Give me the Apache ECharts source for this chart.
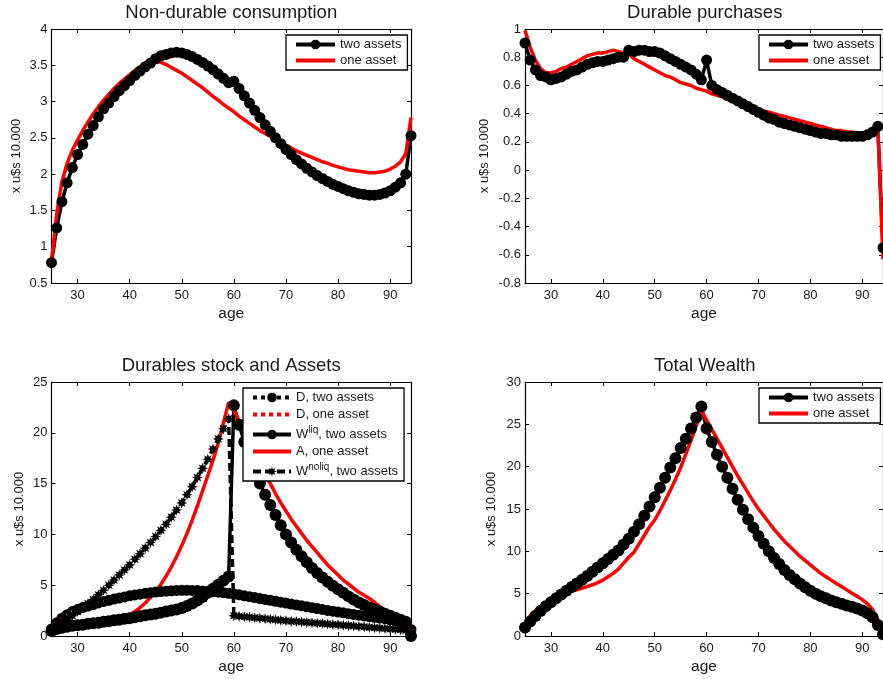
<!DOCTYPE html>
<html>
<head>
<meta charset="utf-8">
<script src="https://cdn.jsdelivr.net/npm/echarts@6/dist/echarts.min.js"></script>
<style>html,body{margin:0;padding:0;background:#fff;}#c{width:883px;height:679px;}</style>
</head>
<body>
<div id="c"></div>
<script>
const ages = [25,26,27,28,29,30,31,32,33,34,35,36,37,38,39,40,41,42,43,44,45,46,47,48,49,50,51,52,53,54,55,56,57,58,59,60,61,62,63,64,65,66,67,68,69,70,71,72,73,74,75,76,77,78,79,80,81,82,83,84,85,86,87,88,89,90,91,92,93,94];
const xTicks = [30,40,50,60,70,80,90];

// Non-durable consumption
const ndTwo = [0.78,1.26,1.62,1.88,2.09,2.27,2.41,2.55,2.67,2.79, 2.90,2.98,3.07,3.15,3.22,3.29,3.36,3.42,3.48,3.53, 3.59,3.63,3.65,3.67,3.68,3.67,3.65,3.62,3.58,3.54, 3.49,3.44,3.38,3.32,3.26,3.28,3.18,3.08,2.98,2.88, 2.78,2.68,2.59,2.50,2.42,2.34,2.27,2.20,2.14,2.08, 2.03,1.98,1.94,1.90,1.86,1.83,1.80,1.77,1.75,1.73, 1.72,1.71,1.71,1.72,1.74,1.77,1.82,1.88,2.00,2.53];
const ndOne = [0.80,1.45,1.90,2.15,2.33,2.47,2.60,2.72,2.83,2.93, 3.02,3.10,3.18,3.25,3.31,3.37,3.43,3.48,3.53,3.56, 3.56,3.54,3.51,3.47,3.43,3.39,3.34,3.29,3.24,3.19, 3.13,3.07,3.02,2.96,2.91,2.86,2.80,2.75,2.70,2.65, 2.60,2.56,2.52,2.48,2.44,2.40,2.36,2.32,2.29,2.26, 2.23,2.20,2.17,2.15,2.12,2.10,2.08,2.06,2.05,2.04, 2.03,2.02,2.02,2.03,2.04,2.07,2.11,2.17,2.28,2.78];

// Durable purchases
const dpTwo = [0.90,0.78,0.71,0.67,0.66,0.64,0.65,0.66,0.68,0.70, 0.71,0.73,0.75,0.76,0.77,0.77,0.78,0.79,0.80,0.80, 0.85,0.84,0.85,0.85,0.84,0.84,0.83,0.81,0.79,0.77, 0.75,0.73,0.71,0.68,0.64,0.78,0.60,0.57,0.55,0.53, 0.51,0.49,0.47,0.45,0.43,0.41,0.39,0.37,0.36,0.34, 0.33,0.32,0.31,0.30,0.29,0.28,0.27,0.26,0.26,0.25, 0.25,0.24,0.24,0.24,0.24,0.24,0.25,0.27,0.31,-0.55];
const dpOne = [0.99,0.87,0.78,0.72,0.69,0.69,0.70,0.72,0.73,0.75, 0.77,0.79,0.81,0.82,0.83,0.83,0.84,0.85,0.84,0.83, 0.82,0.79,0.77,0.75,0.73,0.71,0.69,0.67,0.66,0.64, 0.62,0.61,0.60,0.58,0.57,0.56,0.54,0.53,0.52,0.50, 0.49,0.48,0.47,0.46,0.45,0.43,0.42,0.41,0.40,0.39, 0.38,0.37,0.36,0.35,0.34,0.33,0.32,0.31,0.30,0.29, 0.28,0.28,0.27,0.27,0.26,0.26,0.26,0.27,0.30,-0.63];

// Durables stock and assets
const dTwo = [0.70,1.30,1.75,2.10,2.40,2.60,2.80,2.95,3.10,3.25, 3.40,3.52,3.63,3.74,3.85,3.95,4.04,4.12,4.20,4.26, 4.32,4.37,4.41,4.45,4.48,4.50,4.50,4.49,4.47,4.44, 4.40,4.36,4.31,4.26,4.20,4.14,4.05,3.96,3.87,3.78, 3.69,3.60,3.51,3.42,3.33,3.24,3.15,3.06,2.97,2.88, 2.79,2.70,2.61,2.52,2.44,2.36,2.28,2.20,2.12,2.05, 1.98,1.91,1.84,1.77,1.70,1.60,1.50,1.40,1.30,0.65];
const dOne = [0.80,1.60,2.10,2.45,2.72,2.92,3.10,3.25,3.38,3.50, 3.60,3.70,3.80,3.88,3.96,4.04,4.11,4.17,4.23,4.28, 4.32,4.35,4.37,4.38,4.38,4.37,4.35,4.32,4.28,4.24, 4.19,4.13,4.07,4.00,3.93,3.85,3.75,3.66,3.57,3.48, 3.39,3.30,3.21,3.12,3.03,2.95,2.87,2.79,2.71,2.63, 2.55,2.47,2.39,2.31,2.24,2.17,2.10,2.03,1.97,1.91, 1.85,1.79,1.73,1.67,1.61,1.54,1.46,1.36,1.10,0.50];
const wLiq = [0.50,0.70,0.80,0.90,1.00,1.05,1.10,1.20,1.25,1.30, 1.40,1.45,1.55,1.60,1.70,1.75,1.85,1.95,2.05,2.12, 2.20,2.30,2.40,2.50,2.60,2.75,2.95,3.20,3.50,3.85, 4.25,4.65,5.05,5.45,5.85,22.70,20.80,19.10,17.60,16.20, 15.00,13.90,12.90,11.90,10.90,10.00,9.20,8.50,7.85,7.25, 6.70,6.20,5.75,5.35,4.95,4.60,4.25,3.90,3.60,3.30, 3.05,2.80,2.60,2.40,2.20,2.00,1.80,1.60,1.40,0.00];
const aOne = [0.20,0.40,0.55,0.70,0.80,0.90,1.00,1.10,1.20,1.30, 1.40,1.50,1.63,1.77,1.92,2.10,2.40,2.80,3.25,3.80, 4.40,5.10,5.90,6.80,7.80,8.90,10.10,11.40,12.80,14.30, 15.80,17.30,19.00,21.00,23.00,22.20,21.20,20.10,19.00,17.90, 16.90,15.90,15.00,14.00,13.10,12.30,11.50,10.80,10.10,9.40, 8.80,8.20,7.60,7.00,6.50,6.00,5.50,5.10,4.70,4.30, 4.00,3.70,3.30,2.90,2.50,2.10,1.70,1.20,0.70,0.20];
const wNoliq = [0.60,0.95,1.30,1.65,2.00,2.40,2.80,3.20,3.60,4.05, 4.50,5.00,5.50,6.00,6.50,7.00,7.55,8.10,8.65,9.20, 9.80,10.40,11.00,11.70,12.40,13.10,13.90,14.70,15.60,16.50, 17.40,18.40,19.40,20.40,21.40,2.00,1.95,1.90,1.85,1.80, 1.75,1.70,1.65,1.60,1.55,1.50,1.46,1.42,1.38,1.34, 1.30,1.26,1.22,1.18,1.14,1.10,1.06,1.02,0.98,0.94, 0.90,0.86,0.82,0.78,0.74,0.70,0.66,0.62,0.55,0.30];

// Total wealth
const twTwo = [1.00,1.70,2.35,2.95,3.50,4.00,4.45,4.90,5.35,5.80, 6.20,6.65,7.10,7.60,8.10,8.60,9.10,9.60,10.10,10.80, 11.50,12.30,13.20,14.20,15.30,16.40,17.50,18.70,19.90,21.00, 22.20,23.30,24.50,25.80,27.10,24.50,22.90,21.40,20.00,18.70, 17.40,16.10,14.90,13.80,12.80,11.80,10.90,10.00,9.20,8.50, 7.80,7.20,6.70,6.20,5.75,5.35,5.00,4.70,4.45,4.20, 4.00,3.80,3.60,3.45,3.25,3.00,2.70,2.20,1.30,0.20];
const twOne = [1.50,2.40,3.00,3.50,3.95,4.30,4.60,4.90,5.10,5.30, 5.45,5.65,5.85,6.05,6.30,6.60,7.00,7.40,7.90,8.60, 9.30,9.90,10.90,11.90,12.90,13.70,14.80,16.00,17.20,18.50, 19.90,21.50,23.10,24.80,26.60,25.50,24.40,23.30,22.20,21.10, 20.00,18.90,17.90,16.90,15.90,15.00,14.20,13.40,12.60,11.90, 11.20,10.60,10.00,9.40,8.90,8.40,7.90,7.40,7.00,6.60, 6.20,5.85,5.45,5.05,4.70,4.30,3.80,3.10,1.90,0.50];

const titles = ['Non-durable consumption','Durable purchases','Durables stock and Assets','Total Wealth'];
const yRanges = [[0.5,4,0.5],[-0.8,1,0.2],[0,25,5],[0,30,5]];

const FONT = "'Liberation Sans', Arial, sans-serif";
const TXT = '#1a1a1a';
const panels = [
  {left:51.5, top:29}, {left:525, top:29},
  {left:51.5, top:382}, {left:525, top:382}
];
const PW = 359.5, PH = 254;
const yNameGap = [29, 34, 26, 27];
const star = 'path://M20,10L14.62,11.91L17.07,17.07L11.91,14.62L10,20L8.09,14.62L2.93,17.07L5.38,11.91L0,10L5.38,8.09L2.93,2.93L8.09,5.38L10,0L11.91,5.38L17.07,2.93L14.62,8.09Z';
const ring = 'path://M0,10A10,10 0 1,1 20,10A10,10 0 1,1 0,10ZM7.5,10A2.5,2.5 0 1,0 12.5,10A2.5,2.5 0 1,0 7.5,10Z';
const LW = 3.5;

function pairs(v){ return ages.map((a,i)=>[a,v[i]]); }

const grid=[], xAxis=[], yAxis=[], title=[];
panels.forEach((p,g)=>{
  grid.push({left:p.left, top:p.top, width:PW, height:PH, containLabel:false});
  const tickStyle = {show:true, inside:true, length:4, lineStyle:{color:'#000', width:1}};
  xAxis.push({type:'value', gridIndex:g, min:25, max:94, position:'bottom',
    name:'age', nameLocation:'middle', nameGap:23,
    nameTextStyle:{fontFamily:FONT, fontSize:15.5, color:TXT},
    axisLine:{show:true, onZero:false, lineStyle:{color:'#000', width:1.2}},
    axisTick:Object.assign({customValues:xTicks}, tickStyle),
    axisLabel:{customValues:xTicks, margin:6, fontFamily:FONT, fontSize:13, color:TXT},
    splitLine:{show:false}});
  xAxis.push({type:'value', gridIndex:g, min:25, max:94, position:'top',
    axisLine:{show:true, onZero:false, lineStyle:{color:'#000', width:1.2}},
    axisTick:Object.assign({customValues:xTicks}, tickStyle),
    axisLabel:{show:false}, splitLine:{show:false}});
  const r = yRanges[g];
  yAxis.push({type:'value', gridIndex:g, min:r[0], max:r[1], interval:r[2], position:'left',
    name:'x u$s 10.000', nameLocation:'middle', nameGap:yNameGap[g], nameRotate:90,
    nameTextStyle:{fontFamily:FONT, fontSize:13, color:TXT},
    axisLine:{show:true, onZero:false, lineStyle:{color:'#000', width:1.2}},
    axisTick:tickStyle,
    axisLabel:{margin:4, fontFamily:FONT, fontSize:13, color:TXT,
      formatter:v=>String(Math.round(v*10)/10)},
    splitLine:{show:false}});
  yAxis.push({type:'value', gridIndex:g, min:r[0], max:r[1], interval:r[2], position:'right',
    axisLine:{show:true, onZero:false, lineStyle:{color:'#000', width:1.2}},
    axisTick:tickStyle, axisLabel:{show:false}, splitLine:{show:false}});
  title.push({text:titles[g], left:p.left+PW/2, top:p.top - 26, textAlign:'center', padding:0,
    textStyle:{fontFamily:FONT, fontSize:18.5, fontWeight:'normal', color:TXT}});
});

function blackDots(name, vals, g, size){
  return {name, type:'line', xAxisIndex:2*g, yAxisIndex:2*g, data:pairs(vals), clip:false,
    symbol:'circle', symbolSize:size||11, showSymbol:true,
    lineStyle:{color:'#000', width:LW}, itemStyle:{color:'#000'}, emphasis:{disabled:true}};
}
function redLine(name, vals, g, type){
  return {name, type:'line', xAxisIndex:2*g, yAxisIndex:2*g, data:pairs(vals), clip:false,
    symbol:'none', lineStyle:{color:'#ff0000', width:LW, type:type||'solid'},
    itemStyle:{color:'#ff0000'}, emphasis:{disabled:true}};
}

const series = [
  blackDots('two assets', ndTwo, 0), redLine('one asset', ndOne, 0),
  blackDots('two assets', dpTwo, 1), redLine('one asset', dpOne, 1),
  {name:'D, two assets', type:'line', xAxisIndex:4, yAxisIndex:4, data:pairs(dTwo), clip:false,
    symbol:ring, symbolSize:11, lineStyle:{color:'#000', width:LW, type:'dotted'},
    itemStyle:{color:'#000'}, emphasis:{disabled:true}},
  redLine('D, one asset', dOne, 2, 'dotted'),
  blackDots('Wliq, two assets', wLiq, 2, 12),
  redLine('A, one asset', aOne, 2),
  {name:'Wnoliq, two assets', type:'line', xAxisIndex:4, yAxisIndex:4, data:pairs(wNoliq), clip:false,
    symbol:star, symbolSize:11, lineStyle:{color:'#000', width:LW, type:[8,4]},
    itemStyle:{color:'#000'}, emphasis:{disabled:true}},
  blackDots('two assets', twTwo, 3, 12), redLine('one asset', twOne, 3)
];

const legTxt = {fontFamily:FONT, fontSize:13, color:TXT,
  rich:{sup:{fontFamily:FONT, fontSize:10, color:TXT, padding:[0,0,9,0]}}};
const noSym = {opacity:0};
function legend(names, left, top, w, gap){
  return {data:names.map(n=>/one asset/.test(n) ? {name:n, itemStyle:noSym} : {name:n}),
    left, top, orient:'vertical', itemWidth:w, itemHeight:12, itemGap:gap,
    padding:[3,6,3,8], borderColor:'#000', borderWidth:1.3, backgroundColor:'#fff',
    selectedMode:false, textStyle:legTxt, lineStyle:{width:4},
    formatter:n=>n.replace('Wliq','W{sup|liq}').replace('Wnoliq','W{sup|noliq}')};
}
const option = {
  animation:false,
  title, grid, xAxis, yAxis, series,
  legend:[
    legend(['two assets','one asset'], 286, 35, 39, 3),
    legend(['two assets','one asset'], 759, 35, 39, 3),
    legend(['D, two assets','D, one asset','Wliq, two assets','A, one asset','Wnoliq, two assets'], 243, 388, 38, 4),
    legend(['two assets','one asset'], 759, 388, 39, 3)
  ]
};
const chart = echarts.init(document.getElementById('c'), null, {renderer:'canvas'});
chart.setOption(option);
</script>
</body>
</html>
